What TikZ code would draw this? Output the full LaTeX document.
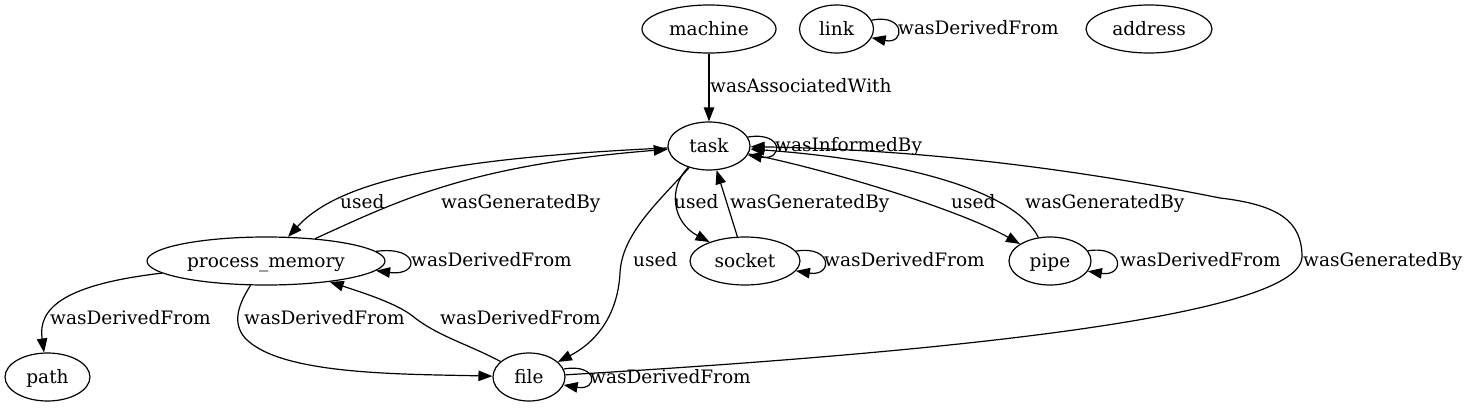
\documentclass[tikz,border=0pt]{standalone}
\usepackage{fontspec}
\setmainfont{DejaVu Serif}
\usetikzlibrary{arrows.meta,shapes.geometric}
\begin{document}
\begin{tikzpicture}[x=1pt,y=-1pt,
  every node/.style={font=\fontsize{18.5}{20}\selectfont},
  ent/.style={draw,ellipse,inner sep=0pt,line width=1.2pt,text height=12pt,text depth=0pt,minimum height=48pt},
  lbl/.style={anchor=west,inner sep=0pt,text height=12pt,text depth=0pt},
  arr/.style={line width=1.2pt,-{Triangle[length=14pt,width=10.5pt]}},
]
\useasboundingbox (0,0) rectangle (1470,407);

% nodes
\node[ent,minimum width=134pt] (machine) at (709,29) {machine};
\node[ent,minimum width=74pt] (link) at (836.5,29) {link};
\node[ent,minimum width=126pt] (address) at (1149,29) {address};
\node[ent,minimum width=82pt] (task) at (709,146) {task};
\node[ent,minimum width=238pt] (pm) at (266,261) {process\_memory};
\node[ent,minimum width=110pt] (socket) at (745,261) {socket};
\node[ent,minimum width=82pt] (pipe) at (1050,261) {pipe};
\node[ent,minimum width=85pt] (path) at (47.5,377) {path};
\node[ent,minimum width=72pt] (file) at (529,377) {file};

% edges
\draw[arr] (machine) -- (task);
\draw[arr] (link.14) .. controls +(34,-7) and +(34,7) .. (link.-14);
\draw[arr] (task.13) .. controls +(36,-6) and +(36,6) .. (task.-13);
\draw[arr] (task) .. controls (450,158) and (340,180) .. (pm);
\draw[arr] (pm) .. controls (400,200) and (470,165) .. (task);
\draw[arr] (pm.5) .. controls +(44,-6) and +(44,6) .. (pm.-5);
\draw[arr] (task) .. controls (655,205) and (622,235) .. (620,273) .. controls (618,311) and (600,340) .. (file);
\draw[arr] (task) .. controls (668,188) and (672,222) .. (socket);
\draw[arr] (socket) -- (task);
\draw[arr] (socket.11) .. controls +(37,-6) and +(37,6) .. (socket.-11);
\draw[arr] (task) .. controls (830,170) and (960,210) .. (pipe);
\draw[arr] (pipe) .. controls (1015,190) and (900,160) .. (task);
\draw[arr] (pipe.15) .. controls +(37,-6) and +(37,6) .. (pipe.-15);
\draw[arr] (file) .. controls (900,355) and (1300,320) .. (1302,257) .. controls (1302,222) and (1280,205) .. (1220,198) .. controls (1110,176) and (950,150) .. (task);
\draw[arr] (file.13) .. controls +(35,-6) and +(35,6) .. (file.-13);
\draw[arr] (pm) .. controls (60,285) and (38,310) .. (path);
\draw[arr] (pm) .. controls (238,305) and (232,323) .. (245,338) .. controls (280,375) and (400,374) .. (file);
\draw[arr] (file) .. controls (470,345) and (440,337) .. (415,318) .. controls (400,305) and (370,295) .. (pm);

% labels
\node[lbl] (l1) at (710,86) {wasAssociatedWith};
\node[lbl] (l2) at (898,28) {wasDerivedFrom};
\node[lbl] (l3) at (775,145) {wasInformedBy};
\node[lbl] (l4) at (340,202) {used};
\node[lbl] (l5) at (441,202) {wasGeneratedBy};
\node[lbl] (l6) at (411,260) {wasDerivedFrom};
\node[lbl] (l7) at (674,202) {used};
\node[lbl] (l8) at (730,202) {wasGeneratedBy};
\node[lbl] (l9) at (824,260) {wasDerivedFrom};
\node[lbl] (l10) at (951,202) {used};
\node[lbl] (l11) at (1025,202) {wasGeneratedBy};
\node[lbl] (l12) at (1120,260) {wasDerivedFrom};
\node[lbl] (l13) at (1303,260) {wasGeneratedBy};
\node[lbl] (l14) at (633,260) {used};
\node[lbl] (l15) at (50,318) {wasDerivedFrom};
\node[lbl] (l16) at (244,318) {wasDerivedFrom};
\node[lbl] (l17) at (440,318) {wasDerivedFrom};
\node[lbl] (l18) at (590,377) {wasDerivedFrom};
\end{tikzpicture}
\end{document}
